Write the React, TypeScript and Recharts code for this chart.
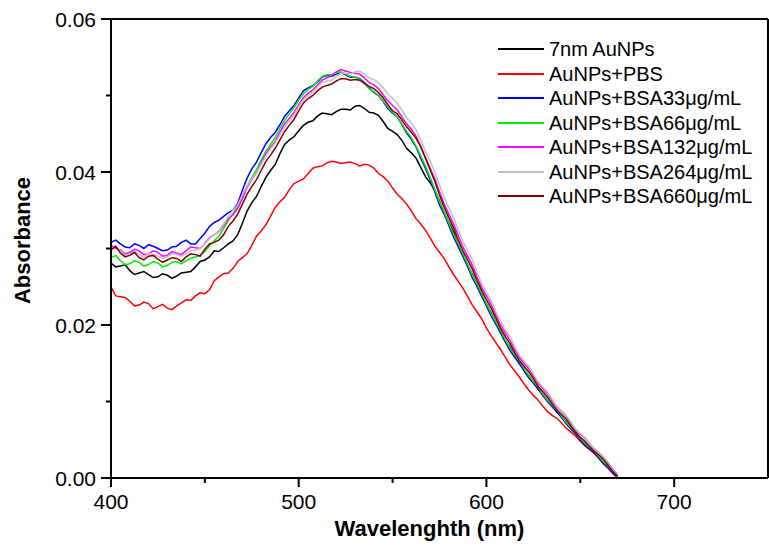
import { LineChart, Line, XAxis, YAxis, Legend, ReferenceLine, Label } from 'recharts';

const FONT = '"Liberation Sans", Arial, sans-serif';

// wavelength samples (nm): whole 5 nm steps and the half steps between them
const wavelengths = [
  400, 405, 410, 415, 420, 425, 430, 435, 440, 445,
  450, 455, 460, 465, 470, 475, 480, 485, 490, 495,
  500, 505, 510, 515, 520, 525, 530, 535, 540, 545,
  550, 555, 560, 565, 570, 575, 580, 585, 590, 595,
  600, 605, 610, 615, 620, 625, 630, 635, 640, 645,
  650, 655, 660, 665, 670,
];
const midWavelengths = [
  402.5, 407.5, 412.5, 417.5, 422.5, 427.5, 432.5, 437.5, 442.5, 447.5,
  452.5, 457.5, 462.5, 467.5, 472.5, 477.5, 482.5, 487.5, 492.5, 497.5,
  502.5, 507.5, 512.5, 517.5, 522.5, 527.5, 532.5, 537.5, 542.5, 547.5,
  552.5, 557.5, 562.5, 567.5, 572.5, 577.5, 582.5, 587.5, 592.5, 597.5,
  602.5, 607.5, 612.5, 617.5, 622.5, 627.5, 632.5, 637.5, 642.5, 647.5,
  652.5, 657.5, 662.5, 667.5,
];

// 7nm AuNPs
const au7nm = [
  0.0281, 0.0277, 0.0271, 0.0268, 0.0266, 0.0263, 0.0265, 0.0264, 0.0269, 0.0276,
  0.0285, 0.0297, 0.0301, 0.0310, 0.0333, 0.0360, 0.0381, 0.0402, 0.0424, 0.0442,
  0.0454, 0.0465, 0.0473, 0.0476, 0.0479, 0.0482, 0.0486, 0.0483, 0.0477, 0.0466,
  0.0453, 0.0441, 0.0425, 0.0406, 0.0386, 0.0362, 0.0334, 0.0305, 0.0278, 0.0252,
  0.0227, 0.0203, 0.0180, 0.0160, 0.0142, 0.0125, 0.0109, 0.0094, 0.0080, 0.0065,
  0.0051, 0.0039, 0.0027, 0.0014, 0.0000,
];
const au7nmMid = [
  0.0276, 0.0279, 0.0266, 0.0270, 0.0262, 0.0267, 0.0261, 0.0268, 0.0270, 0.0283,
  0.0289, 0.0296, 0.0306, 0.0318, 0.0349, 0.0368, 0.0393, 0.0410, 0.0436, 0.0446,
  0.0461, 0.0467, 0.0477, 0.0475, 0.0482, 0.0481, 0.0487, 0.0478, 0.0474, 0.0457,
  0.0449, 0.0431, 0.0418, 0.0394, 0.0376, 0.0346, 0.0322, 0.0290, 0.0266, 0.0238,
  0.0216, 0.0190, 0.0171, 0.0150, 0.0134, 0.0116, 0.0102, 0.0086, 0.0073, 0.0058,
  0.0046, 0.0032, 0.0021, 0.0006,
];

// AuNPs+PBS
const pbs = [
  0.0250, 0.0237, 0.0231, 0.0226, 0.0228, 0.0224, 0.0222, 0.0225, 0.0233, 0.0238,
  0.0241, 0.0258, 0.0267, 0.0274, 0.0288, 0.0304, 0.0323, 0.0342, 0.0361, 0.0377,
  0.0388, 0.0398, 0.0407, 0.0412, 0.0413, 0.0412, 0.0411, 0.0410, 0.0405, 0.0394,
  0.0379, 0.0365, 0.0349, 0.0332, 0.0314, 0.0295, 0.0276, 0.0257, 0.0237, 0.0217,
  0.0196, 0.0177, 0.0158, 0.0140, 0.0123, 0.0108, 0.0094, 0.0082, 0.0072, 0.0060,
  0.0048, 0.0037, 0.0025, 0.0012, 0.0000,
];
const pbsMid = [
  0.0238, 0.0236, 0.0225, 0.0230, 0.0221, 0.0227, 0.0220, 0.0229, 0.0232, 0.0242,
  0.0246, 0.0263, 0.0268, 0.0283, 0.0293, 0.0316, 0.0331, 0.0354, 0.0367, 0.0385,
  0.0391, 0.0405, 0.0408, 0.0414, 0.0411, 0.0413, 0.0408, 0.0409, 0.0398, 0.0388,
  0.0371, 0.0358, 0.0339, 0.0324, 0.0303, 0.0287, 0.0266, 0.0248, 0.0226, 0.0208,
  0.0186, 0.0168, 0.0148, 0.0132, 0.0115, 0.0102, 0.0087, 0.0078, 0.0065, 0.0055,
  0.0042, 0.0032, 0.0018, 0.0006,
];

// AuNPs+BSA33
const bsa33 = [
  0.0308, 0.0306, 0.0301, 0.0304, 0.0305, 0.0300, 0.0298, 0.0303, 0.0311, 0.0306,
  0.0320, 0.0334, 0.0342, 0.0350, 0.0376, 0.0404, 0.0425, 0.0445, 0.0462, 0.0480,
  0.0497, 0.0510, 0.0518, 0.0526, 0.0528, 0.0527, 0.0524, 0.0517, 0.0504, 0.0492,
  0.0477, 0.0462, 0.0443, 0.0418, 0.0390, 0.0357, 0.0330, 0.0302, 0.0276, 0.0250,
  0.0225, 0.0201, 0.0178, 0.0158, 0.0140, 0.0124, 0.0108, 0.0093, 0.0079, 0.0064,
  0.0050, 0.0038, 0.0026, 0.0013, 0.0000,
];
const bsa33Mid = [
  0.0311, 0.0302, 0.0306, 0.0300, 0.0303, 0.0297, 0.0302, 0.0308, 0.0306, 0.0313,
  0.0329, 0.0337, 0.0347, 0.0359, 0.0392, 0.0413, 0.0437, 0.0452, 0.0473, 0.0487,
  0.0506, 0.0513, 0.0524, 0.0525, 0.0530, 0.0524, 0.0522, 0.0510, 0.0500, 0.0483,
  0.0472, 0.0451, 0.0433, 0.0405, 0.0374, 0.0345, 0.0315, 0.0290, 0.0262, 0.0238,
  0.0212, 0.0190, 0.0167, 0.0150, 0.0131, 0.0117, 0.0100, 0.0087, 0.0071, 0.0058,
  0.0043, 0.0033, 0.0019, 0.0006,
];

// AuNPs+BSA66
const bsa66 = [
  0.0288, 0.0284, 0.0280, 0.0282, 0.0279, 0.0281, 0.0278, 0.0283, 0.0284, 0.0289,
  0.0296, 0.0310, 0.0326, 0.0345, 0.0368, 0.0393, 0.0416, 0.0436, 0.0457, 0.0476,
  0.0494, 0.0508, 0.0519, 0.0527, 0.0530, 0.0528, 0.0524, 0.0516, 0.0505, 0.0493,
  0.0478, 0.0463, 0.0445, 0.0421, 0.0393, 0.0361, 0.0333, 0.0306, 0.0279, 0.0253,
  0.0228, 0.0204, 0.0181, 0.0161, 0.0143, 0.0126, 0.0110, 0.0095, 0.0081, 0.0066,
  0.0052, 0.0040, 0.0028, 0.0015, 0.0001,
];
const bsa66Mid = [
  0.0291, 0.0279, 0.0284, 0.0277, 0.0283, 0.0276, 0.0282, 0.0280, 0.0287, 0.0291,
  0.0304, 0.0316, 0.0337, 0.0355, 0.0382, 0.0403, 0.0427, 0.0445, 0.0468, 0.0484,
  0.0502, 0.0512, 0.0525, 0.0527, 0.0531, 0.0525, 0.0521, 0.0509, 0.0500, 0.0485,
  0.0472, 0.0453, 0.0434, 0.0408, 0.0377, 0.0348, 0.0319, 0.0293, 0.0265, 0.0241,
  0.0215, 0.0193, 0.0170, 0.0153, 0.0134, 0.0119, 0.0102, 0.0089, 0.0073, 0.0060,
  0.0045, 0.0035, 0.0021, 0.0008,
];

// AuNPs+BSA132
const bsa132 = [
  0.0304, 0.0298, 0.0295, 0.0297, 0.0293, 0.0295, 0.0291, 0.0294, 0.0297, 0.0301,
  0.0307, 0.0318, 0.0330, 0.0344, 0.0365, 0.0390, 0.0412, 0.0432, 0.0452, 0.0470,
  0.0488, 0.0503, 0.0514, 0.0523, 0.0531, 0.0532, 0.0529, 0.0523, 0.0514, 0.0501,
  0.0487, 0.0472, 0.0456, 0.0434, 0.0405, 0.0374, 0.0345, 0.0317, 0.0290, 0.0263,
  0.0238, 0.0213, 0.0190, 0.0168, 0.0150, 0.0133, 0.0117, 0.0101, 0.0087, 0.0072,
  0.0057, 0.0045, 0.0033, 0.0019, 0.0004,
];
const bsa132Mid = [
  0.0300, 0.0293, 0.0299, 0.0292, 0.0297, 0.0290, 0.0296, 0.0292, 0.0302, 0.0300,
  0.0314, 0.0322, 0.0339, 0.0352, 0.0380, 0.0399, 0.0424, 0.0440, 0.0463, 0.0478,
  0.0497, 0.0507, 0.0520, 0.0526, 0.0534, 0.0530, 0.0528, 0.0517, 0.0509, 0.0493,
  0.0481, 0.0463, 0.0447, 0.0419, 0.0391, 0.0358, 0.0332, 0.0302, 0.0278, 0.0249,
  0.0227, 0.0200, 0.0180, 0.0158, 0.0143, 0.0124, 0.0110, 0.0093, 0.0081, 0.0063,
  0.0052, 0.0038, 0.0027, 0.0011,
];

// AuNPs+BSA264
const bsa264 = [
  0.0300, 0.0297, 0.0293, 0.0292, 0.0294, 0.0290, 0.0289, 0.0292, 0.0293, 0.0298,
  0.0306, 0.0318, 0.0332, 0.0350, 0.0370, 0.0391, 0.0410, 0.0430, 0.0449, 0.0467,
  0.0485, 0.0500, 0.0511, 0.0519, 0.0525, 0.0529, 0.0531, 0.0528, 0.0521, 0.0510,
  0.0496, 0.0481, 0.0464, 0.0442, 0.0414, 0.0383, 0.0353, 0.0324, 0.0297, 0.0269,
  0.0243, 0.0218, 0.0194, 0.0172, 0.0153, 0.0136, 0.0119, 0.0103, 0.0088, 0.0073,
  0.0058, 0.0045, 0.0033, 0.0018, 0.0003,
];
const bsa264Mid = [
  0.0302, 0.0291, 0.0296, 0.0288, 0.0292, 0.0287, 0.0293, 0.0290, 0.0297, 0.0300,
  0.0313, 0.0323, 0.0342, 0.0357, 0.0382, 0.0399, 0.0421, 0.0438, 0.0459, 0.0474,
  0.0494, 0.0504, 0.0517, 0.0520, 0.0529, 0.0528, 0.0532, 0.0523, 0.0517, 0.0502,
  0.0490, 0.0471, 0.0455, 0.0427, 0.0400, 0.0367, 0.0340, 0.0309, 0.0285, 0.0254,
  0.0232, 0.0205, 0.0185, 0.0161, 0.0146, 0.0126, 0.0112, 0.0094, 0.0082, 0.0064,
  0.0053, 0.0038, 0.0027, 0.0010,
];

// AuNPs+BSA660
const bsa660 = [
  0.0298, 0.0294, 0.0291, 0.0288, 0.0290, 0.0286, 0.0285, 0.0287, 0.0289, 0.0292,
  0.0299, 0.0308, 0.0318, 0.0336, 0.0358, 0.0381, 0.0402, 0.0422, 0.0442, 0.0461,
  0.0480, 0.0496, 0.0506, 0.0513, 0.0519, 0.0522, 0.0521, 0.0516, 0.0509, 0.0497,
  0.0480, 0.0468, 0.0452, 0.0433, 0.0403, 0.0370, 0.0340, 0.0311, 0.0285, 0.0258,
  0.0233, 0.0209, 0.0185, 0.0164, 0.0146, 0.0130, 0.0113, 0.0097, 0.0083, 0.0068,
  0.0053, 0.0041, 0.0030, 0.0016, 0.0002,
];
const bsa660Mid = [
  0.0303, 0.0289, 0.0295, 0.0285, 0.0291, 0.0282, 0.0288, 0.0283, 0.0293, 0.0290,
  0.0306, 0.0311, 0.0329, 0.0345, 0.0371, 0.0390, 0.0414, 0.0431, 0.0453, 0.0469,
  0.0490, 0.0500, 0.0511, 0.0515, 0.0522, 0.0520, 0.0520, 0.0512, 0.0504, 0.0488,
  0.0476, 0.0459, 0.0444, 0.0418, 0.0388, 0.0354, 0.0327, 0.0297, 0.0273, 0.0245,
  0.0222, 0.0196, 0.0176, 0.0154, 0.0139, 0.0120, 0.0106, 0.0089, 0.0077, 0.0060,
  0.0048, 0.0035, 0.0024, 0.0008,
];

const xTicks = [400, 450, 500, 550, 600, 650, 700];
const yTicks = [0, 0.01, 0.02, 0.03, 0.04, 0.05, 0.06];

const series = [
  { key: 'au7nm', name: '7nm AuNPs', color: '#000000', values: au7nm, mids: au7nmMid },
  { key: 'pbs', name: 'AuNPs+PBS', color: '#ff0000', values: pbs, mids: pbsMid },
  { key: 'bsa33', name: 'AuNPs+BSA33μg/mL', color: '#0000ff', values: bsa33, mids: bsa33Mid },
  { key: 'bsa66', name: 'AuNPs+BSA66μg/mL', color: '#00ee00', values: bsa66, mids: bsa66Mid },
  { key: 'bsa132', name: 'AuNPs+BSA132μg/mL', color: '#ff00ff', values: bsa132, mids: bsa132Mid },
  { key: 'bsa264', name: 'AuNPs+BSA264μg/mL', color: '#c0c0c0', values: bsa264, mids: bsa264Mid },
  { key: 'bsa660', name: 'AuNPs+BSA660μg/mL', color: '#800000', values: bsa660, mids: bsa660Mid },
];

const fullRows = wavelengths.map((w, i) => {
  const row: Record<string, number> = { w };
  series.forEach(s => { row[s.key] = s.values[i]; });
  return row;
});
const midRows = midWavelengths.map((w, i) => {
  const row: Record<string, number> = { w };
  series.forEach(s => { row[s.key] = s.mids[i]; });
  return row;
});
const data = [...fullRows, ...midRows].sort((a, b) => a.w - b.w);

const XTick = ({ x, y, payload }: any) => {
  const major = payload.value % 100 === 0;
  return (
    <g>
      <line x1={x} y1={y} x2={x} y2={y + (major ? 9 : 5)} stroke="#000" strokeWidth={2} />
      {major && (
        <text x={x} y={y + 31} textAnchor="middle" fontSize={21} fontFamily={FONT} fill="#000">
          {payload.value}
        </text>
      )}
    </g>
  );
};

const YTick = ({ x, y, payload }: any) => {
  const major = Math.round(payload.value * 100) % 2 === 0;
  return (
    <g>
      <line x1={x} y1={y} x2={x - (major ? 10 : 5)} y2={y} stroke="#000" strokeWidth={2} />
      {major && (
        <text x={x - 15} y={y + 7.5} textAnchor="end" fontSize={21} fontFamily={FONT} fill="#000">
          {payload.value.toFixed(2)}
        </text>
      )}
    </g>
  );
};

const LegendBox = () => (
  <div style={{ fontFamily: FONT, fontSize: 20, color: '#000' }}>
    {series.map(s => (
      <div key={s.key} style={{ display: 'flex', alignItems: 'center', height: 24.5 }}>
        <svg width={46} height={4} style={{ marginRight: 5 }}>
          <line x1={0} y1={2} x2={46} y2={2} stroke={s.color} strokeWidth={2} />
        </svg>
        <span style={{ whiteSpace: 'nowrap', lineHeight: '24px' }}>{s.name}</span>
      </div>
    ))}
  </div>
);

export default function App() {
  return (
    <div style={{ position: 'absolute', left: 0, top: 0, background: '#fff' }}>
      <LineChart width={769} height={550} data={data} margin={{ top: 19, right: 1, bottom: 0, left: 0 }}>
        <XAxis
          dataKey="w"
          type="number"
          domain={[400, 750]}
          ticks={xTicks}
          interval={0}
          height={72}
          tickSize={0}
          tickMargin={0}
          tickLine={false}
          tick={<XTick />}
          axisLine={{ stroke: '#000', strokeWidth: 2 }}
        >
          <Label
            content={({ viewBox }: any) => (
              <text
                x={viewBox.x + viewBox.width / 2 - 10}
                y={viewBox.y + 58}
                textAnchor="middle"
                fontSize={22}
                fontWeight="bold"
                fontFamily={FONT}
                fill="#000"
              >
                Wavelenghth (nm)
              </text>
            )}
          />
        </XAxis>
        <YAxis
          type="number"
          domain={[0, 0.06]}
          ticks={yTicks}
          interval={0}
          width={111}
          tickSize={0}
          tickMargin={0}
          tickLine={false}
          tick={<YTick />}
          axisLine={{ stroke: '#000', strokeWidth: 2 }}
        >
          <Label
            content={({ viewBox }: any) => {
              const cx = 22;
              const cy = viewBox.y + viewBox.height / 2 - 8;
              return (
                <text
                  x={cx}
                  y={cy}
                  transform={`rotate(-90 ${cx} ${cy})`}
                  textAnchor="middle"
                  dominantBaseline="central"
                  fontSize={22}
                  fontWeight="bold"
                  fontFamily={FONT}
                  fill="#000"
                >
                  Absorbance
                </text>
              );
            }}
          />
        </YAxis>
        <ReferenceLine x={750} stroke="#000" strokeWidth={2} />
        <ReferenceLine y={0.06} stroke="#000" strokeWidth={2} />
        {series.map(s => (
          <Line
            key={s.key}
            dataKey={s.key}
            name={s.name}
            type="linear"
            stroke={s.color}
            strokeWidth={1.5}
            dot={false}
            isAnimationActive={false}
          />
        ))}
        <Legend
          layout="vertical"
          align="center"
          verticalAlign="middle"
          content={<LegendBox />}
          wrapperStyle={{ left: 498, top: 37, width: 270 }}
        />
      </LineChart>
    </div>
  );
}
